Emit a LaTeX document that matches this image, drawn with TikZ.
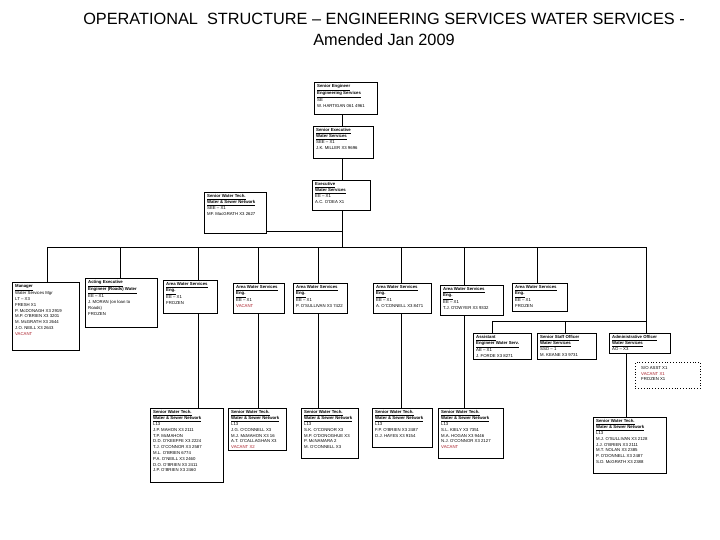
\documentclass[tikz,border=0pt]{standalone}
\usepackage{fontspec}
\setmainfont{Liberation Sans}
\definecolor{vacred}{RGB}{170,30,40}
\newcommand{\ul}[1]{\underline{\textbf{#1}}}
\newcommand{\vac}[1]{\textcolor{vacred}{#1}}
\tikzset{
  box/.style={draw, line width=0.8pt, inner sep=0pt, anchor=north west},
  dotbox/.style={draw, line width=0.8pt, dotted, inner sep=0pt, anchor=north west},
  txt/.style={font=\fontsize{4.3}{5.8}\selectfont, align=left, inner sep=0pt, anchor=north west},
  conn/.style={line width=0.8pt}
}
\newcommand{\obox}[6]{%
  \node[box, minimum width={(#4-#2)*1pt}, minimum height={(#5-#3)*1pt}] (#1) at (#2,#3) {};
  \node[txt] (#1t) at ([xshift=3pt,yshift=-2.5pt]#1.north west) {#6};}
\begin{document}
\begin{tikzpicture}[x=1pt,y=-1pt]
\useasboundingbox (0,0) rectangle (720,540);
\node[font=\fontsize{16.3}{21}\selectfont, align=center] (title) at (384,29)
  {OPERATIONAL\ \ STRUCTURE -- ENGINEERING SERVICES WATER SERVICES -\\Amended Jan 2009};

% top chain
\obox{T1}{314}{82}{377}{114}{\ul{Senior Engineer}\\\ul{Engineering Services}\\SE\\W. HARTIGAN 061 4961}
\obox{T2}{313}{126}{373}{158}{\ul{Senior Executive}\\\ul{Water Services}\\SEE -- X1\\J.K. MILLER X3 9696}
\obox{T3}{312}{180}{370}{210}{\ul{Executive}\\\ul{Water Services}\\EE -- X1\\A.C. O'DEA X1}
\obox{LB}{204}{192}{266}{233}{\ul{Senior Water Tech.}\\\ul{Water \& Sewer Network}\\SEE -- X1\\MF. MacGRATH X3 2627}

% row 1
\obox{A}{12}{282}{79}{350}{\ul{Manager}\\Water Services Mgr\\LT -- X3\\FRESH X1\\P. McDONAGH X3 2919\\M.P. O'BRIEN X3 3201\\M. McGRATH X3 2644\\J.O. NEILL X3 2643\\\vac{VACANT}}
\obox{B}{85}{278}{157}{327}{\ul{Acting Executive}\\\ul{Engineer (Roads) Water}\\EE -- X1\\J. MORAN (on loan to\\Roads)\\FROZEN}
\obox{C}{163}{280}{217}{313}{\ul{Area Water Services}\\\ul{Eng.}\\EE -- X1\\FROZEN}
\obox{D}{233}{283}{284}{313}{\ul{Area Water Services}\\\ul{Eng.}\\EE -- X1\\\vac{VACANT}}
\obox{E}{293}{283}{347}{313}{\ul{Area Water Services}\\\ul{Eng.}\\EE -- X1\\P. O'SULLIVAN X3 7422}
\obox{F}{373}{283}{431}{313}{\ul{Area Water Services}\\\ul{Eng.}\\EE -- X1\\A. O'CONNELL X3 8471}
\obox{G}{440}{285}{503}{315}{\ul{Area Water Services}\\\ul{Eng.}\\EE -- X1\\T.J. O'DWYER X3 9332}
\obox{H}{512}{283}{567}{311}{\ul{Area Water Services}\\\ul{Eng.}\\EE -- X1\\FROZEN}

% row 2 right
\obox{I}{473}{333}{531}{359}{\ul{Assistant}\\\ul{Engineer Water Serv.}\\AE -- X1\\J. FORDE X3 8271}
\obox{J}{537}{333}{596}{359}{\ul{Senior Staff Officer}\\\ul{Water Services}\\SSO -- 1\\M. KEANE X3 9731}
\obox{K}{609}{333}{670}{353}{\ul{Administrative Officer}\\\ul{Water Services}\\AO -- X3}
\node[dotbox, minimum width=65pt, minimum height=26pt] (DB) at (635,362) {};
\node[txt] (DBt) at ([xshift=6pt,yshift=-4pt]DB.north west) {S/O ASST X1\\\vac{VACANT X1}\\FROZEN X1};

% bottom row
\obox{L1}{150}{408}{223}{482}{\ul{Senior Water Tech.}\\\ul{Water \& Sewer Network}\\L13\\J.P. MAHON X3 2111\\T.P. McMAHON\\D.D. O'KEEFFE X3 2224\\T.J. O'CONNOR X3 2587\\M.L. O'BRIEN 6774\\P.A. O'NEILL X3 2460\\D.O. O'BRIEN X3 2411\\J.P. O'BRIEN X3 2460}
\obox{L2}{228}{408}{286}{450}{\ul{Senior Water Tech.}\\\ul{Water \& Sewer Network}\\L13\\J.G. O'CONNELL X3\\M.J. McMAHON X3 16\\A.T. O'CALLAGHAN X3\\\vac{VACANT X2}}
\obox{L3}{301}{408}{358}{458}{\ul{Senior Water Tech.}\\\ul{Water \& Sewer Network}\\L13\\S.K. O'CONNOR X3\\M.P. O'DONOGHUE X3\\P. McNAMARA 2\\M. O'CONNELL X3}
\obox{L4}{372}{408}{432}{447}{\ul{Senior Water Tech.}\\\ul{Water \& Sewer Network}\\L13\\F.P. O'BRIEN X3 2487\\D.J. HAYES X3 9154}
\obox{L5}{438}{408}{503}{458}{\ul{Senior Water Tech.}\\\ul{Water \& Sewer Network}\\L13\\S.L. KIELY X3 7351\\M.A. HOGAN X3 9446\\N.J. O'CONNOR X3 2127\\\vac{VACANT}}
\obox{L6}{593}{417}{666}{473}{\ul{Senior Water Tech.}\\\ul{Water \& Sewer Network}\\L13\\M.J. O'SULLIVAN X3 2128\\J.J. O'BRIEN X3 2111\\M.T. NOLAN X3 2385\\P. O'DONNELL X3 2487\\S.D. McGRATH X3 2388}

% connector coordinates
\coordinate (vx) at (342,0);
\coordinate (hy) at (0,231);
\coordinate (by) at (0,247);
\coordinate (dA) at (47,247);
\coordinate (dB) at (120,247);
\coordinate (dC) at (198,247);
\coordinate (dD) at (258,247);
\coordinate (dE) at (318,247);
\coordinate (dF) at (401,247);
\coordinate (dG) at (464,247);
\coordinate (dH) at (537,247);
\coordinate (dI) at (646,247);
\coordinate (hz) at (0,321);
\coordinate (dIa) at (492,321);
\coordinate (dJa) at (565,321);
\coordinate (dK2) at (626,0);

% top chain
\draw[conn] (T1.south -| vx) -- (T2.north -| vx);
\draw[conn] (T2.south -| vx) -- (T3.north -| vx);
\draw[conn] (T3.south -| vx) -- (vx |- by);
\draw[conn] (LB.east |- hy) -- (vx |- hy);
% bus
\draw[conn] (dA) -- (dI);
\foreach \d/\b in {dA/A,dB/B,dC/C,dD/D,dE/E,dF/F,dG/G,dH/H}
  \draw[conn] (\d) -- (\d |- \b.north);
% continuations
\draw[conn] (dC |- C.south) -- (dC |- L1.north);
\draw[conn] (dD |- D.south) -- (dD |- L2.north);
\draw[conn] (dE |- E.south) -- (dE |- L3.north);
\draw[conn] (dF |- F.south) -- (dF |- L4.north);
\draw[conn] (dG |- G.south) -- (dG |- L5.north);
% right branch
\draw[conn] (dI) -- (dI |- K.north);
\draw[conn] (dIa) -- (dI |- hz);
\draw[conn] (dIa) -- (dIa |- I.north);
\draw[conn] (dJa) -- (dJa |- J.north);
\draw[conn] (dK2 |- K.south) -- (dK2 |- L6.north);
\end{tikzpicture}
\end{document}
